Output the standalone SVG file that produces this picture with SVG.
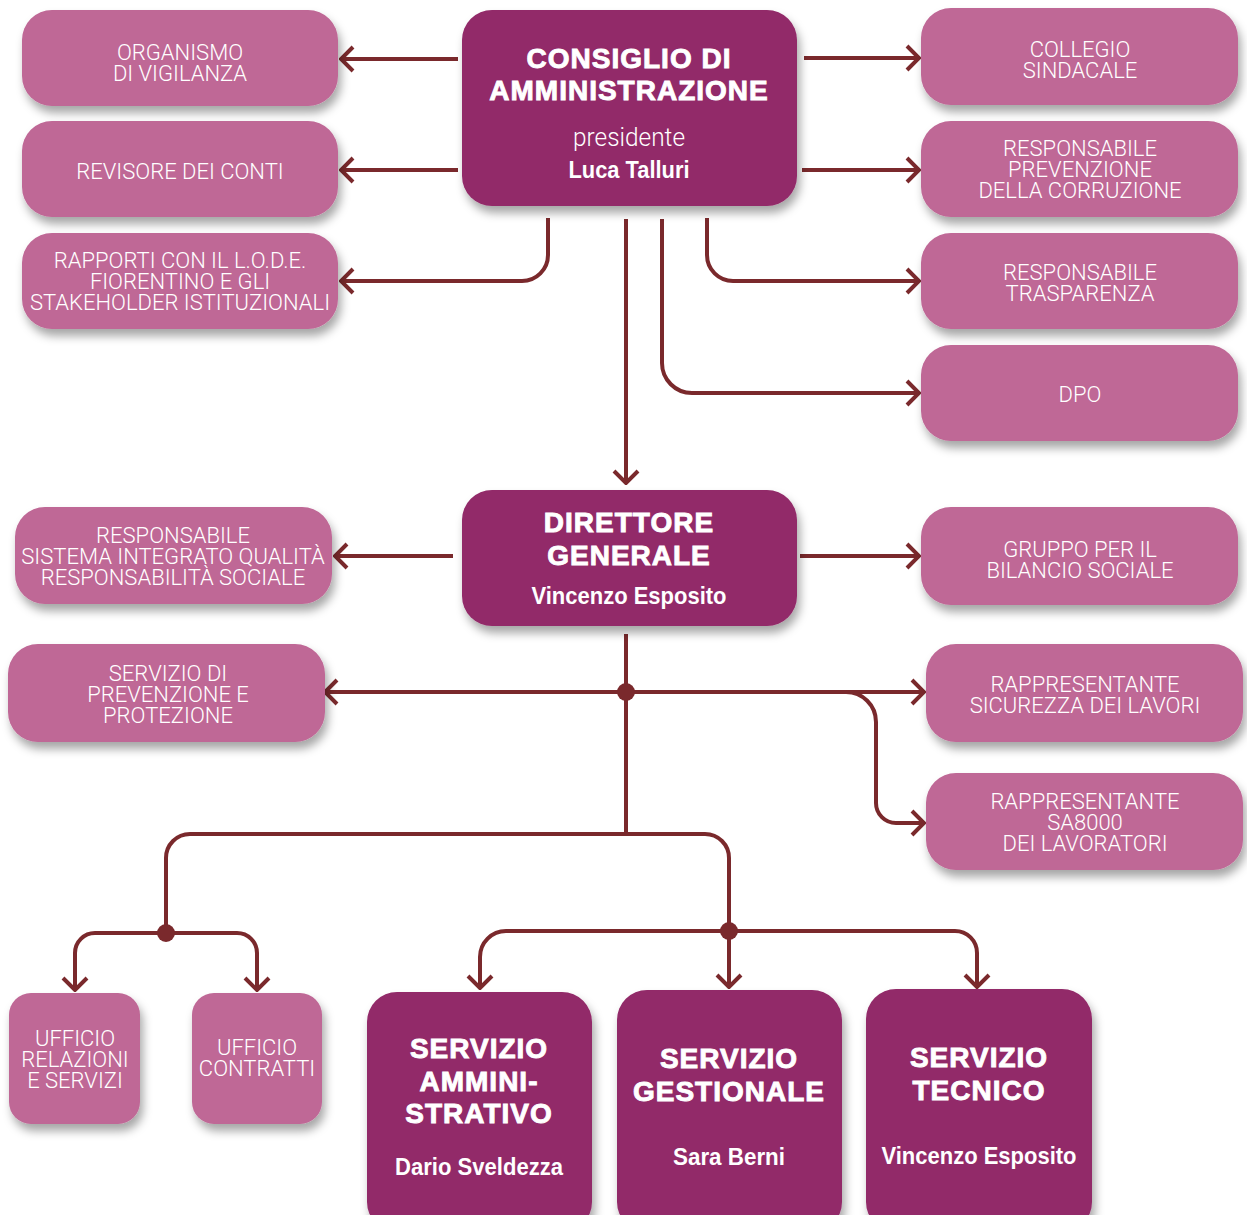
<svg xmlns="http://www.w3.org/2000/svg" width="1247" height="1215" viewBox="0 0 1247 1215">
<defs>
<filter id="sh" x="-20%" y="-20%" width="140%" height="150%">
<feDropShadow dx="3" dy="7" stdDeviation="5" flood-color="#000" flood-opacity="0.35"/>
</filter>
<marker id="ah" viewBox="0 0 16 28" markerWidth="16" markerHeight="28" refX="14" refY="14" orient="auto" markerUnits="userSpaceOnUse">
<path d="M2,2 L14,14 L2,26" fill="none" stroke="#7A292C" stroke-width="4"/>
</marker>
</defs>
<style>
.lt{fill:#BF6896;filter:url(#sh)}
.dk{fill:#922A69;filter:url(#sh)}
.tl{font-family:Roboto,"Liberation Sans",sans-serif;font-weight:300;font-size:22px;fill:#fff;text-anchor:middle}
.th{font-family:"Liberation Sans",Arial,sans-serif;font-weight:bold;font-size:28px;fill:#fff;stroke:#fff;stroke-width:0.9;text-anchor:middle}
.tn{font-family:"Liberation Sans",Arial,sans-serif;font-weight:bold;font-size:24px;fill:#fff;text-anchor:middle}
.tp{font-family:Roboto,"Liberation Sans",sans-serif;font-weight:300;font-size:26px;fill:#fff;text-anchor:middle}
.c{fill:none;stroke:#7A292C;stroke-width:4}
.a{marker-end:url(#ah)}
.dot{fill:#7A292C}
</style>
<rect width="1247" height="1215" fill="#fff"/>

<g id="connectors">
<path class="c a" d="M458 59 H341"/>
<path class="c a" d="M458 170 H341"/>
<path class="c a" d="M548 218 V255 A26 26 0 0 1 522 281 H341"/>
<path class="c a" d="M804 58 H919"/>
<path class="c a" d="M802 170 H919"/>
<path class="c a" d="M707 218 V255 A26 26 0 0 0 733 281 H919"/>
<path class="c a" d="M662 219 V363 A30 30 0 0 0 692 393 H919"/>
<path class="c a" d="M626 219 V483"/>
<path class="c a" d="M800 556 H919"/>
<path class="c a" d="M453 556 H335"/>
<path class="c" d="M626 634 V834"/>
<path class="c a" d="M626 692 H325"/>
<path class="c a" d="M626 692 H924"/>
<path class="c a" d="M846 692 A30 30 0 0 1 876 722 V803 A20 20 0 0 0 896 823 H924"/>
<path class="c" d="M166 933 V858 A24 24 0 0 1 190 834 H705 A24 24 0 0 1 729 858 V931"/>
<path class="c a" d="M729 931 V987"/>
<path class="c a" d="M166 933 H95 A20 20 0 0 0 75 953 V990"/>
<path class="c a" d="M166 933 H237 A20 20 0 0 1 257 953 V990"/>
<path class="c a" d="M729 931 H506 A26 26 0 0 0 480 957 V988"/>
<path class="c a" d="M729 931 H955 A22 22 0 0 1 977 953 V987"/>
<circle class="dot" cx="626" cy="692" r="9"/>
<circle class="dot" cx="166" cy="933" r="9"/>
<circle class="dot" cx="729" cy="931" r="9"/>
</g>

<g id="cda">
<rect class="dk" x="462" y="10" width="335" height="196" rx="30"/>
<text class="th" x="629" y="68" letter-spacing="1">CONSIGLIO DI</text>
<text class="th" x="629" y="100" letter-spacing="1">AMMINISTRAZIONE</text>
<text class="tp" x="629" y="146" textLength="112" lengthAdjust="spacingAndGlyphs">presidente</text>
<text class="tn" x="629" y="178" textLength="121" lengthAdjust="spacingAndGlyphs">Luca Talluri</text>
</g>

<g id="organismo">
<rect class="lt" x="22" y="10" width="316" height="96" rx="30"/>
<text class="tl" x="180" y="60">ORGANISMO</text>
<text class="tl" x="180" y="81">DI VIGILANZA</text>
</g>
<g id="revisore">
<rect class="lt" x="22" y="121" width="316" height="96" rx="30"/>
<text class="tl" x="180" y="179">REVISORE DEI CONTI</text>
</g>
<g id="rapporti">
<rect class="lt" x="22" y="233" width="316" height="96" rx="30"/>
<text class="tl" x="180" y="268">RAPPORTI CON IL L.O.D.E.</text>
<text class="tl" x="180" y="289">FIORENTINO E GLI</text>
<text class="tl" x="180" y="310">STAKEHOLDER ISTITUZIONALI</text>
</g>

<g id="collegio">
<rect class="lt" x="921" y="8" width="317" height="97" rx="30"/>
<text class="tl" x="1080" y="57">COLLEGIO</text>
<text class="tl" x="1080" y="78">SINDACALE</text>
</g>
<g id="prevenzione">
<rect class="lt" x="921" y="121" width="317" height="96" rx="30"/>
<text class="tl" x="1080" y="156">RESPONSABILE</text>
<text class="tl" x="1080" y="177">PREVENZIONE</text>
<text class="tl" x="1080" y="198">DELLA CORRUZIONE</text>
</g>
<g id="trasparenza">
<rect class="lt" x="921" y="233" width="317" height="96" rx="30"/>
<text class="tl" x="1080" y="280">RESPONSABILE</text>
<text class="tl" x="1080" y="301">TRASPARENZA</text>
</g>
<g id="dpo">
<rect class="lt" x="921" y="345" width="317" height="96" rx="30"/>
<text class="tl" x="1080" y="402">DPO</text>
</g>

<g id="direttore">
<rect class="dk" x="462" y="490" width="335" height="136" rx="30"/>
<text class="th" x="629" y="532" letter-spacing="1">DIRETTORE</text>
<text class="th" x="629" y="565" letter-spacing="1">GENERALE</text>
<text class="tn" x="629" y="604" textLength="195" lengthAdjust="spacingAndGlyphs">Vincenzo Esposito</text>
</g>

<g id="sistema">
<rect class="lt" x="15" y="507" width="317" height="97" rx="30"/>
<text class="tl" x="173" y="543">RESPONSABILE</text>
<text class="tl" x="173" y="564">SISTEMA INTEGRATO QUALITÀ</text>
<text class="tl" x="173" y="585">RESPONSABILITÀ SOCIALE</text>
</g>
<g id="spp">
<rect class="lt" x="8" y="644" width="317" height="98" rx="30"/>
<text class="tl" x="168" y="681">SERVIZIO DI</text>
<text class="tl" x="168" y="702">PREVENZIONE E</text>
<text class="tl" x="168" y="723">PROTEZIONE</text>
</g>
<g id="bilancio">
<rect class="lt" x="921" y="507" width="317" height="98" rx="30"/>
<text class="tl" x="1080" y="557">GRUPPO PER IL</text>
<text class="tl" x="1080" y="578">BILANCIO SOCIALE</text>
</g>
<g id="sicurezza">
<rect class="lt" x="926" y="644" width="317" height="98" rx="30"/>
<text class="tl" x="1085" y="692">RAPPRESENTANTE</text>
<text class="tl" x="1085" y="713">SICUREZZA DEI LAVORI</text>
</g>
<g id="sa8000">
<rect class="lt" x="926" y="773" width="317" height="97" rx="30"/>
<text class="tl" x="1085" y="809">RAPPRESENTANTE</text>
<text class="tl" x="1085" y="830">SA8000</text>
<text class="tl" x="1085" y="851">DEI LAVORATORI</text>
</g>

<g id="relazioni">
<rect class="lt" x="9" y="993" width="131" height="131" rx="22"/>
<text class="tl" x="75" y="1046">UFFICIO</text>
<text class="tl" x="75" y="1067">RELAZIONI</text>
<text class="tl" x="75" y="1088">E SERVIZI</text>
</g>
<g id="contratti">
<rect class="lt" x="192" y="993" width="130" height="131" rx="22"/>
<text class="tl" x="257" y="1055">UFFICIO</text>
<text class="tl" x="257" y="1076">CONTRATTI</text>
</g>

<g id="amministrativo">
<rect class="dk" x="367" y="992" width="225" height="240" rx="30"/>
<text class="th" x="479" y="1058" letter-spacing="1">SERVIZIO</text>
<text class="th" x="479" y="1091" letter-spacing="1">AMMINI-</text>
<text class="th" x="479" y="1123" letter-spacing="1">STRATIVO</text>
<text class="tn" x="479" y="1175" textLength="168" lengthAdjust="spacingAndGlyphs">Dario Sveldezza</text>
</g>
<g id="gestionale">
<rect class="dk" x="617" y="990" width="225" height="242" rx="30"/>
<text class="th" x="729" y="1068" letter-spacing="1">SERVIZIO</text>
<text class="th" x="729" y="1101" letter-spacing="1">GESTIONALE</text>
<text class="tn" x="729" y="1165" textLength="112" lengthAdjust="spacingAndGlyphs">Sara Berni</text>
</g>
<g id="tecnico">
<rect class="dk" x="866" y="989" width="226" height="243" rx="30"/>
<text class="th" x="979" y="1067" letter-spacing="1">SERVIZIO</text>
<text class="th" x="979" y="1100" letter-spacing="1">TECNICO</text>
<text class="tn" x="979" y="1164" textLength="195" lengthAdjust="spacingAndGlyphs">Vincenzo Esposito</text>
</g>
</svg>
